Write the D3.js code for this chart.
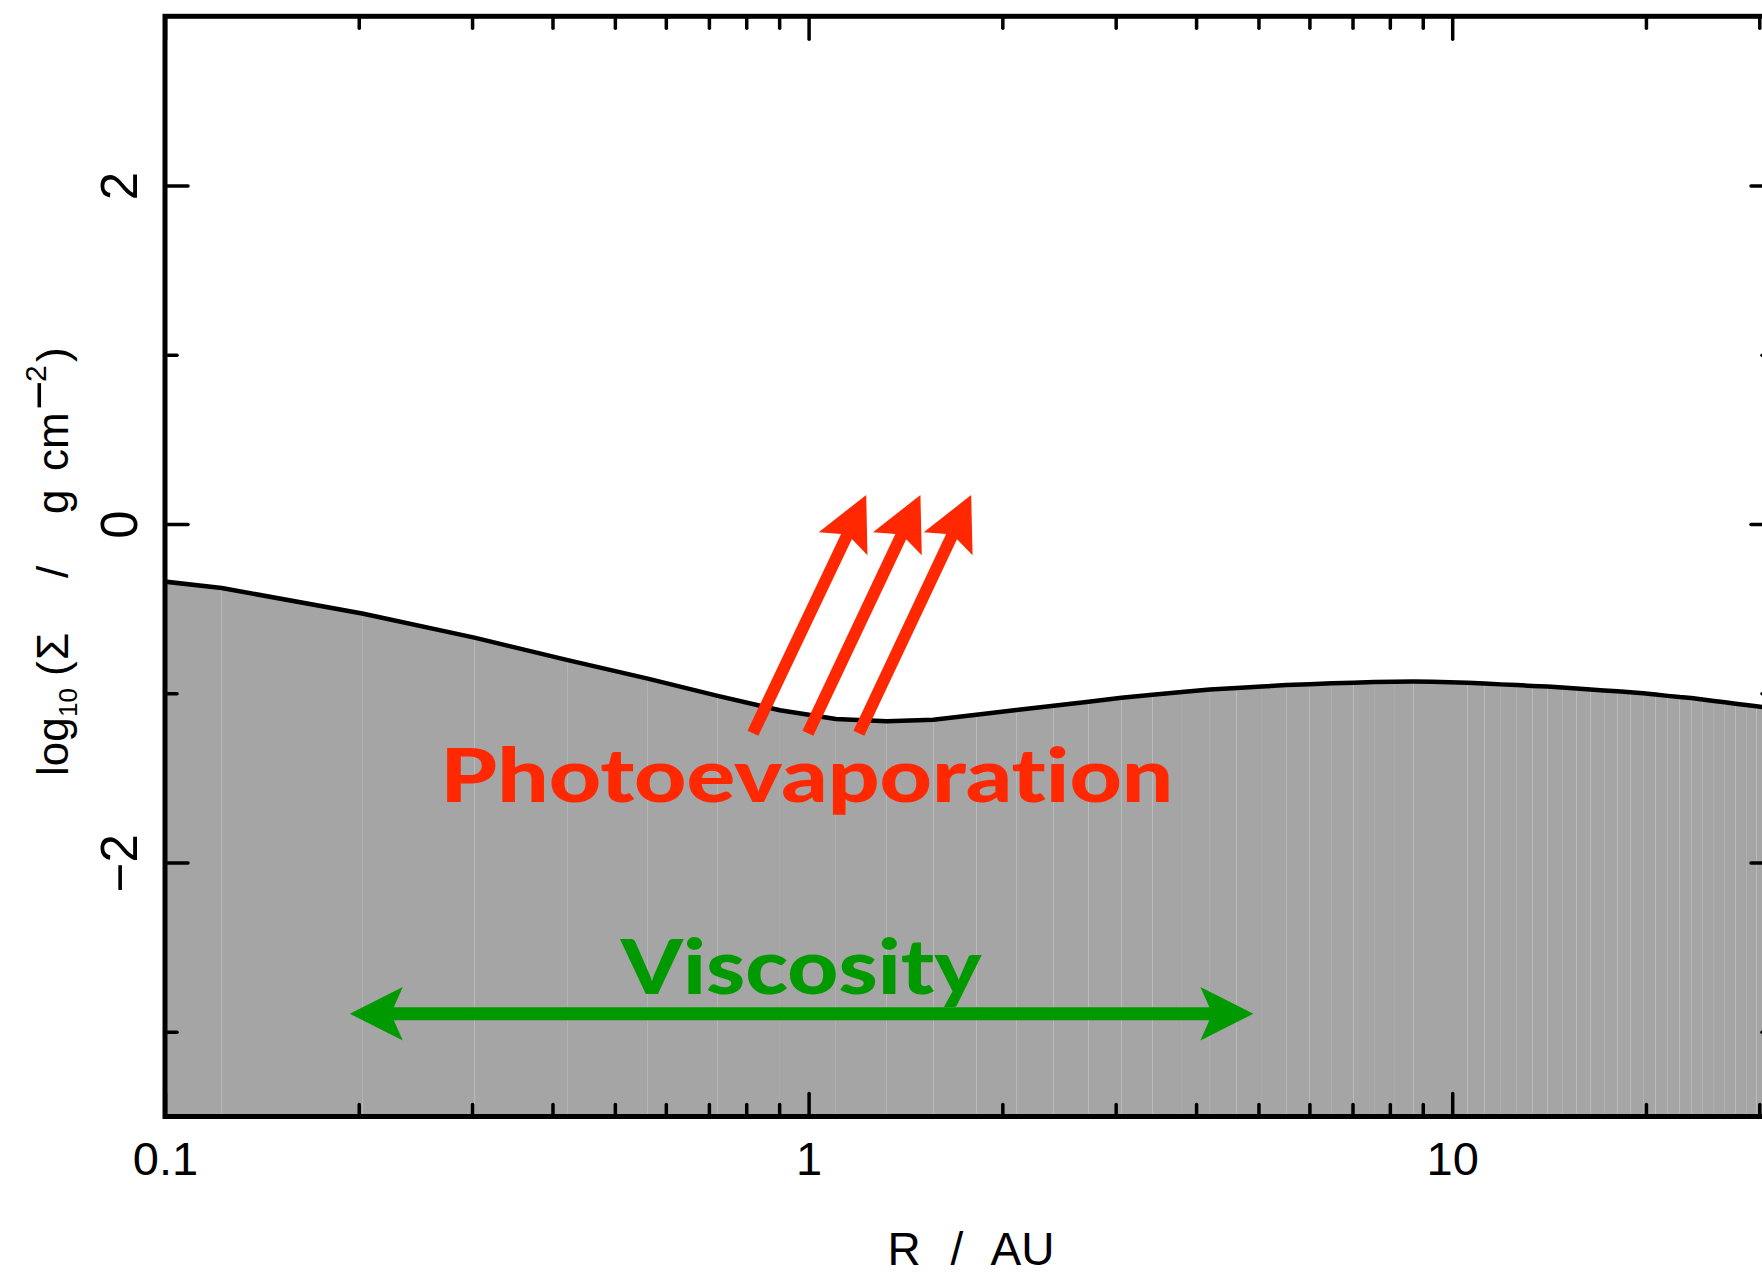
<!DOCTYPE html>
<html>
<head>
<meta charset="utf-8">
<script src="https://cdn.jsdelivr.net/npm/d3@7"></script>
<style>
  html, body { margin: 0; padding: 0; background: #fff; }
  svg { display: block; }
</style>
</head>
<body>
<svg id="chart" width="1762" height="1278"></svg>
<script>
// Radial grid of the disc model (AU) and surface density log10(Sigma / g cm^-2)
const radius = [0.0625, 0.1225, 0.2025, 0.3025, 0.4225, 0.5625, 0.7225, 0.9025, 1.1025, 1.3225,
  1.5625, 1.8225, 2.1025, 2.4025, 2.7225, 3.0625, 3.4225, 3.8025, 4.2025, 4.6225,
  5.0625, 5.5225, 6.0025, 6.5025, 7.0225, 7.5625, 8.1225, 8.7025, 9.3025, 9.9225,
  10.5625, 11.2225, 11.9025, 12.6025, 13.3225, 14.0625, 14.8225, 15.6025, 16.4025, 17.2225,
  18.0625, 18.9225, 19.8025, 20.7025, 21.6225, 22.5625, 23.5225, 24.5025, 25.5025, 26.5225,
  27.5625, 28.6225, 29.7025, 30.8025, 31.9225];
const logSigma = [-0.252, -0.378, -0.528, -0.671, -0.804, -0.913, -1.015, -1.100, -1.152, -1.165,
  -1.156, -1.127, -1.099, -1.073, -1.049, -1.026, -1.008, -0.992, -0.977, -0.968,
  -0.960, -0.951, -0.946, -0.941, -0.937, -0.933, -0.931, -0.930, -0.931, -0.934,
  -0.937, -0.942, -0.947, -0.951, -0.956, -0.960, -0.966, -0.972, -0.977, -0.983,
  -0.988, -0.993, -0.999, -1.007, -1.015, -1.022, -1.027, -1.036, -1.045, -1.053,
  -1.061, -1.069, -1.076, -1.084, -1.092];

// Axis ticks
const xMajorTicks = [0.1, 1, 10];
const xTickLabels = ["0.1", "1", "10"];
const xMinorTicks = [0.2, 0.3, 0.4, 0.5, 0.6, 0.7, 0.8, 0.9, 2, 3, 4, 5, 6, 7, 8, 9, 20, 30];
const yMajorTicks = [-2, 0, 2];
const yTickLabels = ["\u22122", "0", "2"];
const yMinorTicks = [-3, -1, 1];

// Annotations: photoevaporative wind arrows (R, log Sigma at tail and tip)
const windTailR = [0.8194, 0.9975, 1.197];
const windTipR = [1.229, 1.492, 1.789];
const windTailY = -1.236;
const windTipY = 0.172;
const windLabel = "Photoevaporation";
const windLabelPos = { r0: 0.2678, r1: 3.688, y: -1.642 };

// Viscous spreading double arrow
const viscRange = [0.1937, 4.91];
const viscY = -2.893;
const viscLabel = "Viscosity";
const viscLabelPos = { r0: 0.5106, r1: 1.856, y: -2.779 };

const svg = d3.select("#chart");
const mLeft = 165, mRight = 1774, mTop = 16.3, mBottom = 1116.5;

const x = d3.scaleLog().domain([0.1, Math.pow(10, 1.5)]).range([mLeft, mRight]);
const y = d3.scaleLinear().domain([-3.5, 3]).range([mBottom, mTop]);

svg.append("defs").append("clipPath").attr("id", "plotClip")
  .append("rect").attr("x", mLeft).attr("y", mTop)
  .attr("width", mRight - mLeft).attr("height", mBottom - mTop);

const data = radius.map((r, i) => ({ r, s: logSigma[i] }));

// Filled column of gas, one cell per grid interval
const plot = svg.append("g").attr("clip-path", "url(#plotClip)");
const area = d3.area().x(d => x(d.r)).y0(mBottom).y1(d => y(d.s));
plot.selectAll("path.cell")
  .data(d3.pairs(data))
  .join("path")
  .attr("class", "cell")
  .attr("d", d => area(d))
  .attr("fill", "#a5a5a5");

// Surface density profile
plot.append("path")
  .datum(data)
  .attr("d", d3.line().x(d => x(d.r)).y(d => y(d.s)))
  .attr("fill", "none")
  .attr("stroke", "#000")
  .attr("stroke-width", 4.5)
  .attr("stroke-linejoin", "round");

// Axes: major and minor ticks on all four sides, pointing inward
const font = "'Liberation Sans', Arial, Helvetica, sans-serif";
function styleTicks(g, width) {
  g.select(".domain").remove();
  g.selectAll(".tick line").attr("stroke", "#000").attr("stroke-width", width).attr("stroke-linecap", "round");
}

const MAJ = 23, MIN = 12;

// bottom
const bx = svg.append("g").attr("transform", `translate(0,${mBottom})`)
  .call(d3.axisBottom(x).tickValues(xMajorTicks).tickSize(-MAJ).tickFormat((d, i) => xTickLabels[i]));
styleTicks(bx, 3.5);
bx.selectAll(".tick text")
  .attr("y", 58.5).attr("dy", 0)
  .attr("fill", "#000")
  .style("font-family", font).style("font-size", "47px");
const bxm = svg.append("g").attr("transform", `translate(0,${mBottom})`)
  .call(d3.axisBottom(x).tickValues(xMinorTicks).tickSize(-MIN).tickFormat(""));
styleTicks(bxm, 3.5);

// top
const tx = svg.append("g").attr("transform", `translate(0,${mTop})`)
  .call(d3.axisTop(x).tickValues(xMajorTicks).tickSize(-MAJ).tickFormat(""));
styleTicks(tx, 3.5);
const txm = svg.append("g").attr("transform", `translate(0,${mTop})`)
  .call(d3.axisTop(x).tickValues(xMinorTicks).tickSize(-MIN).tickFormat(""));
styleTicks(txm, 3.5);

// left
const ly = svg.append("g").attr("transform", `translate(${mLeft},0)`)
  .call(d3.axisLeft(y).tickValues(yMajorTicks).tickSize(-MAJ).tickFormat((d, i) => yTickLabels[i]));
styleTicks(ly, 3.5);
ly.selectAll(".tick text")
  .attr("transform", "rotate(-90)")
  .attr("x", 0).attr("y", -28).attr("dy", 0)
  .attr("text-anchor", "middle")
  .attr("fill", "#000")
  .style("font-family", font).style("font-size", "51px");
const lym = svg.append("g").attr("transform", `translate(${mLeft},0)`)
  .call(d3.axisLeft(y).tickValues(yMinorTicks).tickSize(-MIN).tickFormat(""));
styleTicks(lym, 3.5);

// right
const ry = svg.append("g").attr("transform", `translate(${mRight},0)`)
  .call(d3.axisRight(y).tickValues(yMajorTicks).tickSize(-MAJ).tickFormat(""));
styleTicks(ry, 3.5);
const rym = svg.append("g").attr("transform", `translate(${mRight},0)`)
  .call(d3.axisRight(y).tickValues(yMinorTicks).tickSize(-MIN).tickFormat(""));
styleTicks(rym, 3.5);

// frame
svg.append("rect")
  .attr("x", mLeft).attr("y", mTop)
  .attr("width", mRight - mLeft).attr("height", mBottom - mTop)
  .attr("fill", "none").attr("stroke", "#000").attr("stroke-width", 5);

// axis titles
svg.append("text")
  .attr("x", 971).attr("y", 1265)
  .attr("text-anchor", "middle")
  .style("font-family", font).style("font-size", "46px")
  .style("word-spacing", "17px")
  .text("R / AU");

const yt = svg.append("text")
  .attr("transform", "translate(68,776) rotate(-90)")
  .style("font-family", font).style("font-size", "44px")
  .attr("fill", "#000");
yt.append("tspan").attr("x", 0).attr("y", 0).text("log");
yt.append("tspan").attr("x", 59).attr("y", 9).style("font-size", "26px").text("10");
yt.append("tspan").attr("x", 100).attr("y", 0).text("(");
yt.append("tspan").attr("x", 116).attr("y", 0).text("\u03A3");
yt.append("tspan").attr("x", 198).attr("y", 0).text("/");
yt.append("tspan").attr("x", 262).attr("y", 0).text("g");
yt.append("tspan").attr("x", 305).attr("y", 0).text("cm");
yt.append("tspan").attr("x", 366).attr("y", -12).style("font-size", "50px").text("\u2212");
yt.append("tspan").attr("x", 394).attr("y", -22).style("font-size", "30px").text("2");
yt.append("tspan").attr("x", 414).attr("y", 0).text(")");

// Arrow polygon builder (pixel space)
function arrowPoints(x0, y0, x1, y1, w, H, W, n) {
  const L = Math.hypot(x1 - x0, y1 - y0);
  const ux = (x1 - x0) / L, uy = (y1 - y0) / L;
  const px = -uy, py = ux;
  const P = (a, b) => [x0 + ux * a + px * b, y0 + uy * a + py * b];
  return [P(0, -w), P(L - H + n, -w), P(L - H, -W), P(L, 0), P(L - H, W), P(L - H + n, w), P(0, w)];
}
function doubleArrowPoints(x0, x1, yc, w, H, W, n) {
  return [[x0, yc], [x0 + H, yc - W], [x0 + H - n, yc - w], [x1 - H + n, yc - w], [x1 - H, yc - W],
          [x1, yc], [x1 - H, yc + W], [x1 - H + n, yc + w], [x0 + H - n, yc + w], [x0 + H, yc + W]];
}

const red = "#ff2800", green = "#009a00";
const wind = windTailR.map((r, i) => ({ t: r, h: windTipR[i] }));
svg.append("g").selectAll("polygon")
  .data(wind)
  .join("polygon")
  .attr("points", d => arrowPoints(x(d.t), y(windTailY), x(d.h), y(windTipY), 6, 54, 27, 8).join(" "))
  .attr("fill", red);

const boldFont = "Lato, 'Open Sans', 'Liberation Sans', sans-serif";
svg.append("text")
  .attr("x", x(windLabelPos.r0)).attr("y", y(windLabelPos.y))
  .attr("textLength", x(windLabelPos.r1) - x(windLabelPos.r0))
  .attr("lengthAdjust", "spacingAndGlyphs")
  .attr("fill", red)
  .style("font-family", boldFont).style("font-weight", 900).style("font-size", "74px")
  .style("font-variant-ligatures", "none")
  .text(windLabel);

svg.append("polygon")
  .attr("points", doubleArrowPoints(x(viscRange[0]), x(viscRange[1]), y(viscY), 6.4, 53, 26.7, 9).join(" "))
  .attr("fill", green);

svg.append("text")
  .attr("x", x(viscLabelPos.r0)).attr("y", y(viscLabelPos.y))
  .attr("textLength", x(viscLabelPos.r1) - x(viscLabelPos.r0))
  .attr("lengthAdjust", "spacingAndGlyphs")
  .attr("fill", green)
  .style("font-family", boldFont).style("font-weight", 900).style("font-size", "76px")
  .style("font-variant-ligatures", "none")
  .text(viscLabel);
</script>
</body>
</html>
